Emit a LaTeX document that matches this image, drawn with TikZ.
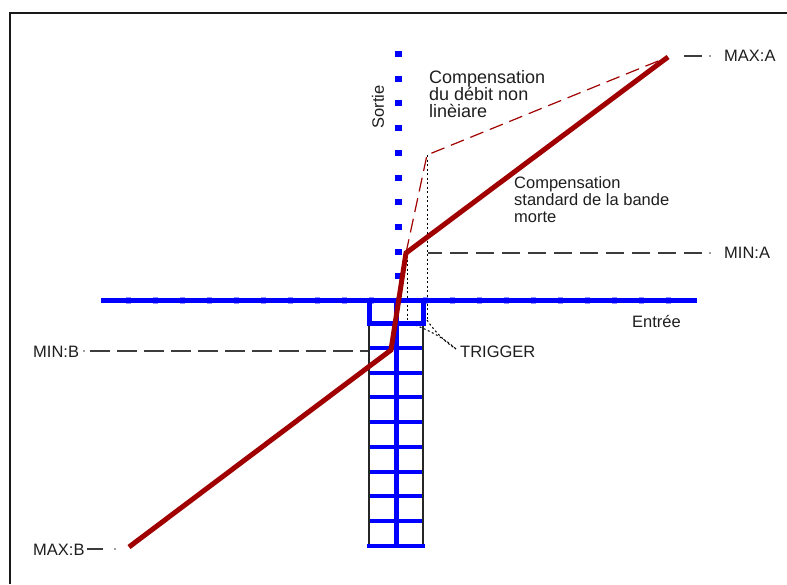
\documentclass[tikz,border=0pt]{standalone}
\usepackage{fontspec}
\setmainfont{Liberation Sans}
\definecolor{axblue}{RGB}{0,0,255}
\definecolor{lblue}{RGB}{150,150,255}
\definecolor{mred}{RGB}{160,0,0}
\definecolor{leadgray}{RGB}{60,60,60}
\definecolor{txt}{RGB}{30,30,30}
\begin{document}
\begin{tikzpicture}[x=1pt,y=-1pt,
  lbl/.style={font=\fontsize{16.5}{17}\selectfont, inner sep=0pt, text=txt, align=left},
  leader/.style={draw=leadgray, line width=1.1pt, dash pattern=on 18pt off 8pt},
  leaddot/.style={fill=leadgray},
  dotline/.style={draw=black, line width=1pt, dash pattern=on 2pt off 2.5pt},
  bar/.style={draw=axblue, line width=4.5pt},
  ladside/.style={draw=black!85, line width=1.6pt},
  curve/.style={draw=mred, line width=5pt},
  dcurve/.style={draw=mred, line width=1.2pt, dash pattern=on 14pt off 7pt}]
\useasboundingbox (0,0) rectangle (787,584);
% frame
\draw[black!90, line width=2pt] (10,584) -- (10,13) -- (787,13);

% coordinates
\coordinate (maxB) at (129,547);
\coordinate (minB) at (391,350);
\coordinate (minA) at (406,253);
\coordinate (maxA) at (668,57);
\coordinate (knee) at (427,155);

% labels
\node[lbl, anchor=base west] (tMAXA) at (724,61) {MAX:A};
\node[lbl, anchor=base west] (tMINA) at (724,258) {MIN:A};
\node[lbl, anchor=base west] (tMINB) at (33,357) {MIN:B};
\node[lbl, anchor=base west] (tMAXB) at (33,555) {MAX:B};
\node[lbl, anchor=base west] (tENT) at (632,327) {Entrée};
\node[lbl, anchor=base west] (tTRIG) at (460,357) {TRIGGER};
\node[lbl, anchor=center, rotate=90] (tSORT) at (378,107) {Sortie};
\node[lbl, font=\fontsize{18}{17}\selectfont, anchor=north west] (tC1) at (429,70) {Compensation\\du débit non\\linèiare};
\node[lbl, anchor=north west] (tC2) at (514,176) {Compensation\\standard de la bande\\morte};

% leaders
\coordinate (la1) at (683,56); \coordinate (la2) at (702,56);
\draw[leader] (la2) -- (la1);
\fill[leaddot] (710,56) circle (0.9);
\coordinate (lma1) at (428,253); \coordinate (lma2) at (702,253);
\draw[leader] (lma2) -- (lma1);
\fill[leaddot] (710,253) circle (0.9);
\coordinate (lmb1) at (90,351); \coordinate (lmb2) at (368,351);
\draw[leader, dash pattern=on 20pt off 7pt] (lmb1) -- (lmb2);
\fill[leaddot] (84,351) circle (0.9);
\coordinate (lxb1) at (87,549); \coordinate (lxb2) at (103,549);
\draw[leader] (lxb1) -- (lxb2);
\fill[leaddot] (115,549) circle (0.9);

% dotted trigger lines
\coordinate (d1t) at (407,255); \coordinate (d1b) at (407,322);
\coordinate (d2b) at (427,320);
\coordinate (trg) at (456,349);
\draw[dotline] (knee) -- (d2b);
\draw[dotline] (d1t) -- (d1b);
\draw[dotline] (d1b) .. controls (418,326) and (440,334) .. (trg);
\draw[dotline] (d2b) .. controls (435,332) and (445,342) .. (trg);

% ladder
\draw[ladside] (369,323) -- (369,547);
\draw[ladside] (423,323) -- (423,547);
\foreach \y in {348,373,397,422,447,472,496,521}
  \draw[bar] (370,\y) -- (422,\y);
\draw[bar] (367,546) -- (425,546);
\draw[axblue, line width=5pt] (396,300) -- (396,546);

% horizontal axis
\foreach \k in {0,...,20}
  \fill[lblue] ({128+27*\k-2.5},296.5) rectangle ++(5,7);
\draw[axblue, line width=5pt] (101,300) -- (697,300);
\draw[axblue, line width=5pt] (369.5,300) rectangle (423,323);

% vertical dotted axis
\foreach \k in {0,...,9}
  \fill[axblue] (394.5,{54+24.7*\k-3}) rectangle ++(7,6);

% curves
\draw[dcurve] (minA) -- (knee) -- (maxA);
\draw[curve] (maxB) -- (minB) -- (minA) -- (maxA);
\end{tikzpicture}
\end{document}
